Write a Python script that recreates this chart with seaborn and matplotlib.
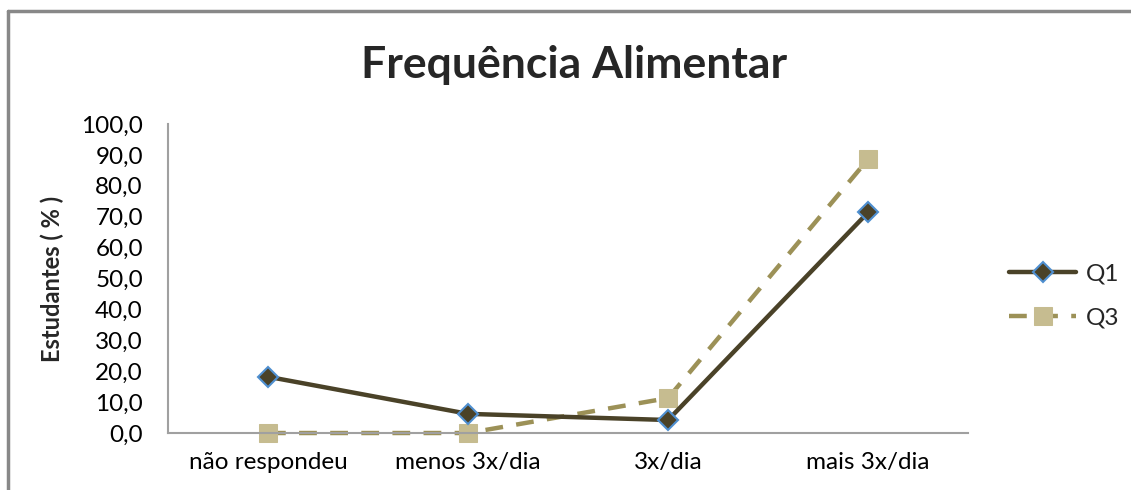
import pandas as pd
import matplotlib.pyplot as plt
import seaborn as sns
from matplotlib.lines import Line2D

categorias = ["não respondeu", "menos 3x/dia", "3x/dia", "mais 3x/dia"]
q1 = [18.2, 6.2, 4.2, 71.4]
q3 = [0.0, 0.0, 11.3, 88.6]
y_ticks = [0, 10, 20, 30, 40, 50, 60, 70, 80, 90, 100]

df = pd.DataFrame({
    "categoria": categorias * 2,
    "valor": q1 + q3,
    "serie": ["Q1"] * 4 + ["Q3"] * 4,
})

sns.set_style("white")
plt.rcParams["font.family"] = ["Lato", "DejaVu Sans"]

fig = plt.figure(figsize=(11.31, 4.9), dpi=100)
ax = fig.add_axes([0.1485, 0.1163, 0.7075, 0.6307])

d1 = df[df["serie"] == "Q1"]
d3 = df[df["serie"] == "Q3"]
sns.lineplot(data=d3, x="categoria", y="valor", ax=ax, color="#9c9157",
             linewidth=3.2, linestyle=(0, (4, 3)), marker="s", markersize=13,
             markerfacecolor="#c6bc90", markeredgecolor="#c6bc90",
             label="Q3", sort=False, clip_on=False)
sns.lineplot(data=d1, x="categoria", y="valor", ax=ax, color="#4a4228",
             linewidth=3.2, marker="D", markersize=10,
             markerfacecolor="#4a4228", markeredgecolor="#4f8fd0",
             markeredgewidth=1.5, label="Q1", sort=False, clip_on=False)

ax.set_xlim(-0.5, 3.5)
ax.set_ylim(0, 100)
ax.set_yticks(y_ticks)
ax.set_yticklabels([f"{v:.1f}".replace(".", ",") for v in y_ticks])
ax.tick_params(axis="both", length=0, labelsize=17.5, colors="#000000")
ax.tick_params(axis="x", pad=14)
ax.tick_params(axis="y", pad=18)
ax.set_xlabel("")
ax.set_ylabel("Estudantes ( % )", fontsize=17, fontweight="bold", labelpad=12)

for s in ["top", "right"]:
    ax.spines[s].set_visible(False)
for s in ["left", "bottom"]:
    ax.spines[s].set_color("#a0a0a0")
    ax.spines[s].set_linewidth(1.5)

handles, labels = ax.get_legend_handles_labels()
order = [labels.index("Q1"), labels.index("Q3")]
ax.legend([handles[i] for i in order], [labels[i] for i in order],
          loc="center left", bbox_to_anchor=(1.024, 0.443), frameon=False,
          fontsize=17.5, handlelength=2.75, labelspacing=0.95, handletextpad=0.4)

fig.suptitle("Frequência Alimentar", fontsize=32, fontweight="bold",
             x=0.508, y=0.867, va="center")

# border of the chart area (only top and left edges visible in the crop)
fig.add_artist(Line2D([8 / 1131, 1.0], [1 - 11 / 490, 1 - 11 / 490],
                      transform=fig.transFigure, color="#888888", linewidth=2.5))
fig.add_artist(Line2D([8 / 1131, 8 / 1131], [0.0, 1 - 11 / 490],
                      transform=fig.transFigure, color="#888888", linewidth=2.5))

fig.savefig("out.png", dpi=100)
